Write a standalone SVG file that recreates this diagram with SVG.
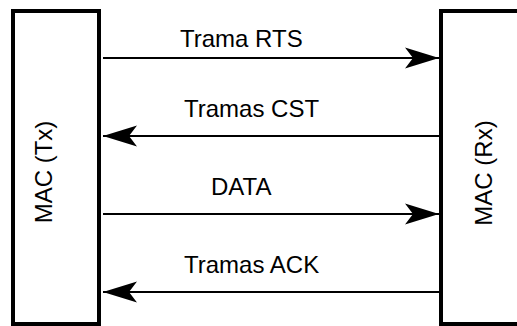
<svg xmlns="http://www.w3.org/2000/svg" width="517" height="326" viewBox="0 0 517 326">
  <style>
    .box { fill: #ffffff; stroke: #000000; stroke-width: 4; }
    .msg { stroke: #000000; stroke-width: 2; fill: none; marker-end: url(#head); }
    .lbl { font-family: "Liberation Sans", Arial, sans-serif; font-size: 24px; fill: #000000; }
  </style>
  <defs>
    <!-- barbed arrowhead, tip at refX -->
    <marker id="head" markerUnits="userSpaceOnUse" markerWidth="34" markerHeight="22" viewBox="0 0 34 22" refX="34" refY="11" orient="auto">
      <path d="M34,11 L0,0.5 L8,11 L0,21.5 Z" fill="#000000"/>
    </marker>
  </defs>
  <rect width="517" height="326" fill="#ffffff"/>

  <g id="mac-tx">
    <rect class="box" x="13" y="11" width="86" height="313"/>
    <text class="lbl" transform="translate(52,172) rotate(-90)" text-anchor="middle">MAC (Tx)</text>
  </g>

  <g id="mac-rx">
    <rect class="box" x="441" y="11" width="100" height="313"/>
    <text class="lbl" transform="translate(492,173) rotate(-90)" text-anchor="middle">MAC (Rx)</text>
  </g>

  <g id="connectors">
    <line class="msg" x1="103" y1="58" x2="439" y2="58"/>
    <line class="msg" x1="439" y1="136" x2="103" y2="136"/>
    <line class="msg" x1="103" y1="214" x2="439" y2="214"/>
    <line class="msg" x1="439" y1="292" x2="103" y2="292"/>
  </g>

  <g id="labels">
    <text class="lbl" x="180" y="47">Trama RTS</text>
    <text class="lbl" x="184" y="117">Tramas CST</text>
    <text class="lbl" x="211" y="195">DATA</text>
    <text class="lbl" x="184" y="273">Tramas ACK</text>
  </g>
</svg>
